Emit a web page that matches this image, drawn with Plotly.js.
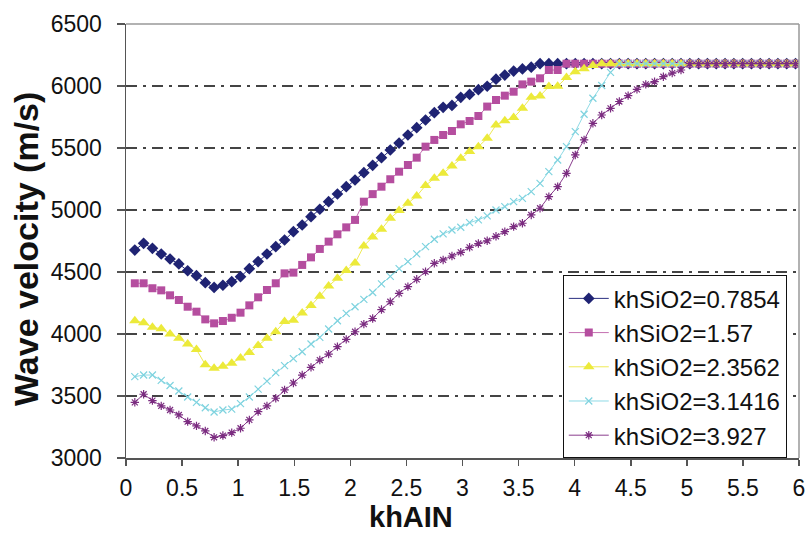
<!DOCTYPE html>
<html>
<head>
<meta charset="utf-8">
<script src="https://cdn.plot.ly/plotly-3.0.1.min.js"></script>
<style>
html,body{margin:0;padding:0;background:#fff;}
#chart{width:807px;height:533px;}
</style>
</head>
<body>
<div id="chart"></div>
<script>
// khAlN values (x)
var khAlN = [
 0.0785,0.1571,0.2356,0.3142,0.3927,0.4712,0.5498,0.6283,0.7069,0.7854,
 0.8639,0.9425,1.0210,1.0996,1.1781,1.2566,1.3352,1.4137,1.4923,1.5708,
 1.6493,1.7279,1.8064,1.8850,1.9635,2.0420,2.1206,2.1991,2.2777,2.3562,
 2.4347,2.5133,2.5918,2.6704,2.7489,2.8274,2.9060,2.9845,3.0631,3.1416,
 3.2201,3.2987,3.3772,3.4558,3.5343,3.6128,3.6914,3.7699,3.8485,3.9270,
 4.0055,4.0841,4.1626,4.2412,4.3197,4.3982,4.4768,4.5553,4.6339,4.7124,
 4.7909,4.8695,4.9480,5.0265,5.1051,5.1836,5.2622,5.3407,5.4192,5.4978,
 5.5763,5.6549,5.7334,5.8119,5.8905,5.9690
];

var seriesNames = ["khSiO2=0.7854","khSiO2=1.57","khSiO2=2.3562","khSiO2=3.1416","khSiO2=3.927"];

var v07854 = [
 4677,4731,4691,4645,4605,4565,4510,4470,4414,4376,
 4393,4422,4462,4527,4584,4645,4704,4758,4825,4879,
 4946,5006,5067,5129,5188,5242,5301,5360,5422,5484,
 5540,5605,5664,5726,5785,5828,5843,5909,5932,5970,
 5998,6055,6088,6120,6138,6152,6180,6180,6180,6180,
 6180,6180,6180,6180,6180,6180,6180,6180,6180,6180,
 6180,6180,6180,6180,6180,6180,6180,6180,6180,6180,
 6180,6180,6180,6180,6180,6180
];
var v157 = [
 4409,4409,4369,4352,4312,4274,4220,4180,4118,4086,
 4105,4131,4172,4231,4296,4355,4409,4489,4495,4557,
 4618,4686,4745,4804,4860,4920,5067,5128,5188,5248,
 5309,5363,5422,5511,5565,5605,5637,5691,5718,5758,
 5834,5887,5922,5954,6013,6035,6062,6129,6129,6180,
 6180,6180,6180,6180,6180,6180,6180,6180,6180,6180,
 6180,6180,6180,6180,6180,6180,6180,6180,6180,6180,
 6180,6180,6180,6180,6180,6180
];
var v23562 = [
 4107,4091,4054,4043,4000,3965,3919,3875,3753,3723,
 3740,3764,3806,3850,3908,3965,4019,4100,4110,4170,
 4230,4305,4387,4449,4513,4572,4710,4783,4844,4933,
 4995,5054,5113,5197,5256,5296,5355,5417,5471,5511,
 5578,5685,5720,5745,5820,5910,5920,5995,5998,6068,
 6115,6140,6165,6180,6180,6180,6180,6180,6180,6180,
 6180,6180,6180,6180,6180,6180,6180,6180,6180,6180,
 6180,6180,6180,6180,6180,6180
];
var v31416 = [
 3656,3669,3669,3626,3585,3540,3492,3449,3405,3371,
 3387,3394,3438,3492,3556,3620,3688,3745,3801,3857,
 3919,3973,4040,4107,4166,4220,4279,4335,4404,4465,
 4527,4584,4646,4705,4764,4807,4839,4861,4898,4920,
 4952,5000,5027,5067,5094,5148,5215,5309,5403,5511,
 5632,5772,5901,6004,6110,6180,6180,6180,6180,6180,
 6180,6180,6180,6180,6180,6180,6180,6180,6180,6180,
 6180,6180,6180,6180,6180,6180
];
var v3927 = [
 3449,3514,3463,3420,3387,3347,3293,3259,3218,3167,
 3181,3205,3240,3307,3374,3420,3482,3549,3605,3669,
 3731,3790,3838,3898,3957,4018,4080,4125,4197,4260,
 4328,4382,4441,4503,4570,4597,4629,4659,4699,4730,
 4752,4788,4825,4866,4893,4960,5014,5108,5188,5296,
 5444,5565,5699,5766,5820,5875,5922,5973,6013,6035,
 6075,6104,6129,6180,6180,6180,6180,6180,6180,6180,
 6180,6180,6180,6180,6180,6180
];

var xTicks = [0,0.5,1,1.5,2,2.5,3,3.5,4,4.5,5,5.5,6];
var xTickText = ["0","0.5","1","1.5","2","2.5","3","3.5","4","4.5","5","5.5","6"];
var yTicks = [3000,3500,4000,4500,5000,5500,6000,6500];

var allY = [v07854, v157, v23562, v31416, v3927];
var colors = ["#1f2373","#b54e9f","#ecea3a","#7fd3df","#7b2c80"];
var lineColors = ["#2a2e80","#c46fb0","#eeea55","#8fdbe6","#8a3d8e"];
var symbols = ["diamond","square","triangle-up","x-thin-open","asterisk-open"];
var sizes = [9,8,10,7,7];

var traces = allY.map(function(y,i){
  return {
    x: khAlN, y: y, name: seriesNames[i], type: "scatter", mode: "lines+markers",
    line: {color: lineColors[i], width: 1},
    marker: {symbol: symbols[i], size: sizes[i], color: colors[i],
             line: {color: colors[i], width: (i>=3?1.2:0)}}
  };
});

var font = "Liberation Sans, Arial, sans-serif";
var layout = {
  width: 807, height: 533,
  margin: {l:126, r:8, t:24, b:75},
  paper_bgcolor: "#fff", plot_bgcolor: "#fff",
  showlegend: true,
  font: {family: font, color: "#111"},
  xaxis: {
    range: [0,6], tickmode: "array", tickvals: xTicks, ticktext: xTickText,
    ticks: "outside", ticklen: 6, tickcolor: "#555", tickwidth: 1.5,
    showline: true, linecolor: "#555", linewidth: 1.5, showgrid: false, zeroline: false,
    tickfont: {family: font, size: 23, color: "#111"},
    ticklabelstandoff: 3
  },
  yaxis: {
    range: [3000,6500], tickmode: "array", tickvals: yTicks,
    ticks: "outside", ticklen: 8, tickcolor: "#555", tickwidth: 1.5,
    showline: true, linecolor: "#555", linewidth: 1.5, zeroline: false,
    showgrid: true, gridcolor: "#444", gridwidth: 1.5, griddash: "11px,6px,3px,6px",
    tickfont: {family: font, size: 23, color: "#111"},
    ticklabelstandoff: 10
  },
  legend: {
    x: 0.649, y: 0.421, xanchor: "left", yanchor: "top",
    bgcolor: "#fff", bordercolor: "#111", borderwidth: 1,
    font: {family: font, size: 24, color: "#111"},
    tracegroupgap: 0, itemwidth: 40
  },
  annotations: [
    {text: "khAIN", xref: "paper", yref: "paper", x: 0.4235, y: -0.0968,
     xanchor: "center", yanchor: "top", showarrow: false, borderpad: 0,
     font: {family: font, size: 29, color: "#111", weight: "bold"}},
    {text: "Wave velocity (m/s)", xref: "paper", yref: "paper", x: -0.1486, y: 0.4816,
     xanchor: "center", yanchor: "middle", showarrow: false, textangle: -90, borderpad: 0,
     font: {family: font, size: 34, color: "#111", weight: "bold"}}
  ],
  shapes: [
    {type:"line", xref:"paper", yref:"paper", x0:0, x1:1, y0:1, y1:1, line:{color:"#999", width:1.5}},
    {type:"line", xref:"paper", yref:"paper", x0:1, x1:1, y0:0, y1:1, line:{color:"#999", width:1.5}}
  ]
};

Plotly.newPlot("chart", traces, layout, {displayModeBar: false, staticPlot: true});
</script>
</body>
</html>
